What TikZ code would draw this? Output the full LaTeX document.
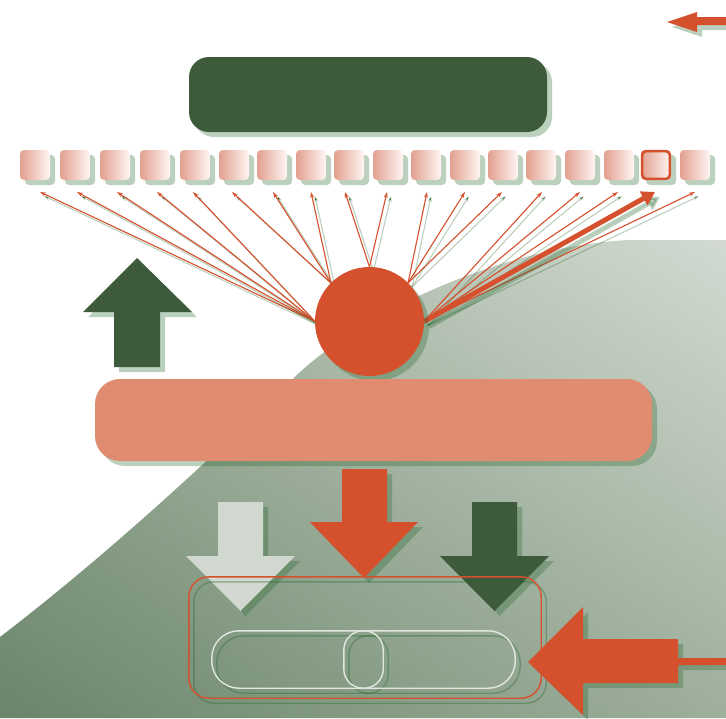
\documentclass[tikz,border=0pt]{standalone}
\usetikzlibrary{arrows.meta,shadows,shadings}

\definecolor{accent}{HTML}{D5502C}
\definecolor{salmon}{HTML}{E08C70}
\definecolor{forest}{HTML}{3D5B3B}
\definecolor{mist}{HTML}{D0D8CF}
\definecolor{shadowc}{RGB}{34,100,40}
\definecolor{bgtr}{HTML}{D2DAD1}
\definecolor{bgmid}{HTML}{9EAF9C}
\definecolor{bgbl}{HTML}{6A8569}
\definecolor{sqleft}{HTML}{E2A090}
\definecolor{sqright}{HTML}{FFF6F3}
\definecolor{pill}{HTML}{DFE7DE}

% arrow outlines (x to the right, y downwards)
\newcommand\arrUp{(137,258) -- (192,312) -- (160,312) -- (160,367) -- (114,367) -- (114,312) -- (83,312) -- cycle}
\newcommand\arrDownA{(218,502) -- (263,502) -- (263,556) -- (295,556) -- (240.5,611) -- (186,556) -- (218,556) -- cycle}
\newcommand\arrDownB{(342,469) -- (387,469) -- (387,522) -- (418,522) -- (364,578) -- (310,522) -- (342,522) -- cycle}
\newcommand\arrDownC{(472,502) -- (517,502) -- (517,556) -- (549,556) -- (494.5,611) -- (440,556) -- (472,556) -- cycle}
\newcommand\arrLeft{(528,662) -- (583,607) -- (583,639) -- (678,639) -- (678,658) -- (730,658) -- (730,665) -- (678,665) -- (678,683) -- (583,683) -- (583,715) -- cycle}
\newcommand\arrTop{(667,22) -- (697,12) -- (697,17) -- (730,17) -- (730,25) -- (697,25) -- (697,32) -- cycle}

\begin{document}
\begin{tikzpicture}[x=1pt,y=-1pt,
  softshadow/.style={drop shadow={shadow xshift=5pt,shadow yshift=-5pt,fill=shadowc,opacity=0.3}},
  shapeshadow/.style={fill=shadowc,fill opacity=0.3,shift={(5,5)}},
  header/.style={fill=forest,rounded corners=20pt,minimum width=358pt,minimum height=75pt,inner sep=0pt,softshadow},
  bar/.style={fill=salmon,rounded corners=25pt,minimum width=557pt,minimum height=82pt,inner sep=0pt,softshadow},
  cell/.style={left color=sqleft,right color=sqright,rounded corners=4pt,minimum size=30pt,inner sep=0pt,softshadow},
  hubshape/.style={circle,minimum size=109pt,inner sep=0pt,outer sep=0pt},
  link/.style={accent,line width=1.1pt,-{Stealth[length=6pt,width=4pt]}},
  linkshadow/.style={draw=shadowc,draw opacity=0.3,line width=1.1pt,-{Stealth[length=6pt,width=4pt]}},
  outline/.style={line width=1.4pt},
  outlineshadow/.style={draw=shadowc,draw opacity=0.35,line width=1.4pt},
]
\useasboundingbox (0,0) rectangle (726,718);
\fill[white] (0,0) rectangle (726,718);

% backdrop
\shade[upper right=bgtr,lower left=bgbl,upper left=bgmid,lower right=bgmid]
  (0,637) .. controls (120,545) and (230,440) .. (300,372)
          .. controls (380,300) and (520,245) .. (630,240)
  -- (726,240) -- (726,718) -- (0,718) -- cycle;

% small arrow at the top edge
\fill[shapeshadow] \arrTop;
\fill[accent] \arrTop;

% header block
\node[header] (head) at (368,94.5) {};

% hub position (drawn after the links)
\path node[hubshape] (hub) at (369.5,321.5) {};

% fan of links from the hub to the cells
\foreach \i/\tx/\a in {1/40/west,2/77/west,3/117/west,4/157/west,5/193/west,
    6/232/north west,7/273/north west,8/311/north west,
    9/345/north,10/387/north,
    11/427/north east,12/465/north east,13/502/north east,
    14/542/east,15/580/east,16/618/east,18/695/east}{
  \coordinate (t\i) at (\tx,192);
  \draw[linkshadow] ([shift={(4,4)}]hub.\a) -- ([shift={(4,4)}]t\i);
  \draw[link] (hub.\a) -- (t\i);
}
\coordinate (t17) at (655,192);
\draw[draw=shadowc,draw opacity=0.3,fill=shadowc,fill opacity=0.3,line width=5pt,-{Triangle[length=13pt,width=15pt]}] ([shift={(5,5)}]hub.east) -- ([shift={(5,5)}]t17);
\draw[accent,line width=5pt,-{Triangle[length=13pt,width=15pt]}] (hub.east) -- (t17);

% row of cells
\foreach \x [count=\i] in {35,75,115,155,195,234,272,311,349,388,426,465,503,541,580,619,656,695}{
  \node[cell] (s\i) at (\x,165) {};
}
\draw[accent,line width=2.6pt,rounded corners=4pt] ([shift={(1.3,-1.3)}]s17.south west) rectangle ([shift={(-1.3,1.3)}]s17.north east);

% hub
\node[hubshape,fill=accent,softshadow] (hubdisc) at (hub.center) {};

% upward arrow
\fill[shapeshadow] \arrUp;
\fill[forest] \arrUp;

% wide bar
\node[bar] (band) at (373.5,420) {};

% downward arrows
\fill[shapeshadow] \arrDownA;
\fill[mist] \arrDownA;
\fill[shapeshadow] \arrDownB;
\fill[accent] \arrDownB;
\fill[shapeshadow] \arrDownC;
\fill[forest] \arrDownC;

% tray with its slot and knob
\node[minimum width=352pt,minimum height=121pt,inner sep=0pt] (tray) at (365,637.5) {};
\node[minimum width=303pt,minimum height=57pt,inner sep=0pt] (slot) at (363.5,659.5) {};
\node[minimum width=39pt,minimum height=57pt,inner sep=0pt] (knob) at (363.5,659.5) {};
\draw[outlineshadow,rounded corners=20pt] ([shift={(5,5)}]tray.south west) rectangle ([shift={(5,5)}]tray.north east);
\draw[outline,accent,rounded corners=20pt] (tray.south west) rectangle (tray.north east);
\draw[outlineshadow,rounded corners=27pt] ([shift={(5,5)}]slot.south west) rectangle ([shift={(5,5)}]slot.north east);
\draw[outlineshadow,rounded corners=19pt] ([shift={(5,5)}]knob.south west) rectangle ([shift={(5,5)}]knob.north east);
\draw[outline,pill,rounded corners=27pt] (slot.south west) rectangle (slot.north east);
\draw[outline,pill,rounded corners=19pt] (knob.south west) rectangle (knob.north east);

% arrow entering from the right
\fill[shapeshadow] \arrLeft;
\fill[accent] \arrLeft;
\end{tikzpicture}
\end{document}
